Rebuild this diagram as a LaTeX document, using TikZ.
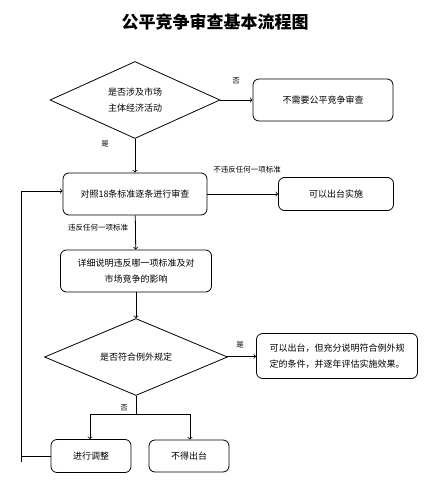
\documentclass[tikz,border=0pt]{standalone}
\usepackage{fontspec}
\setmainfont{Noto Sans CJK SC}
\usetikzlibrary{shapes.geometric}

\begin{document}
\begin{tikzpicture}[-,thick,x=1pt,y=-1pt,font=\fontsize{9}{16}\selectfont]
        \tikzstyle{point}=[coordinate]
        \tikzstyle{block}=[draw, rectangle, rounded corners=6pt, align=center, inner sep=0pt]
        \tikzstyle{decision}=[draw, diamond, aspect=2.2, align=center, inner sep=0pt]
        \tikzstyle{tag}=[font=\fontsize{7.5}{9}\selectfont]
        \useasboundingbox (0,0) rectangle (436,498);
        \node[font=\fontsize{17}{20}\selectfont\bfseries] (0) at (215,22) {公平竞争审查基本流程图};
        \node[decision, minimum width=170pt, minimum height=77pt] (1) at (135,100) {是否涉及市场\\主体经济活动};
        \node[block, minimum width=140pt, minimum height=42pt] (2) at (323,100) {不需要公平竞争审查};
        \node[block, minimum width=144pt, minimum height=42pt] (3) at (135,194) {对照18条标准逐条进行审查};
        \node[block, minimum width=115pt, minimum height=33pt] (4) at (336,194) {可以出台实施};
        \node[block, minimum width=151pt, minimum height=42pt] (5) at (136,271) {详细说明违反哪一项标准及对\\市场竞争的影响};
        \node[decision, minimum width=183pt, minimum height=77pt] (6) at (136,357) {是否符合例外规定};
        \node[block, minimum width=161pt, minimum height=45pt, align=left] (7) at (337,356) {可以出台，但充分说明符合例外规\\定的条件，并逐年评估实施效果。};
        \node[block, minimum width=80pt, minimum height=33pt] (8) at (91,456) {进行调整};
        \node[block, minimum width=80pt, minimum height=32pt] (9) at (189,456) {不得出台};
        \node[point] (10) at (136,414) {};
        \node[point] (11) at (90,414) {};
        \node[point] (12) at (190,414) {};
        \node[point] (13) at (21,456) {};
        \node[point] (14) at (21,462) {};
        \draw[->] (1) -- (2);
        \draw[->] (1) -- (3);
        \draw[->] (3) -- (4);
        \draw[->] (3) -- (5);
        \draw[->] (5) -- (6);
        \draw[->] (6) -- (7);
        \draw (6) -- (10)  (11) -- (12);
        \draw[->] (11) -- (8.north -| 11);
        \draw[->] (12) -- (9.north -| 12);
        \draw[->] (8) -- (13) |- ([yshift=3pt]3.west);
        \draw (13) -- (14);
        \node[tag] (15) at (236,81)  {否};
        \node[tag] (16) at (105,144) {是};
        \node[tag] (17) at (247,170) {不违反任何一项标准};
        \node[tag] (18) at (98,228)  {违反任何一项标准};
        \node[tag] (19) at (240,345) {是};
        \node[tag] (20) at (124,408) {否};
    \end{tikzpicture}
\end{document}
